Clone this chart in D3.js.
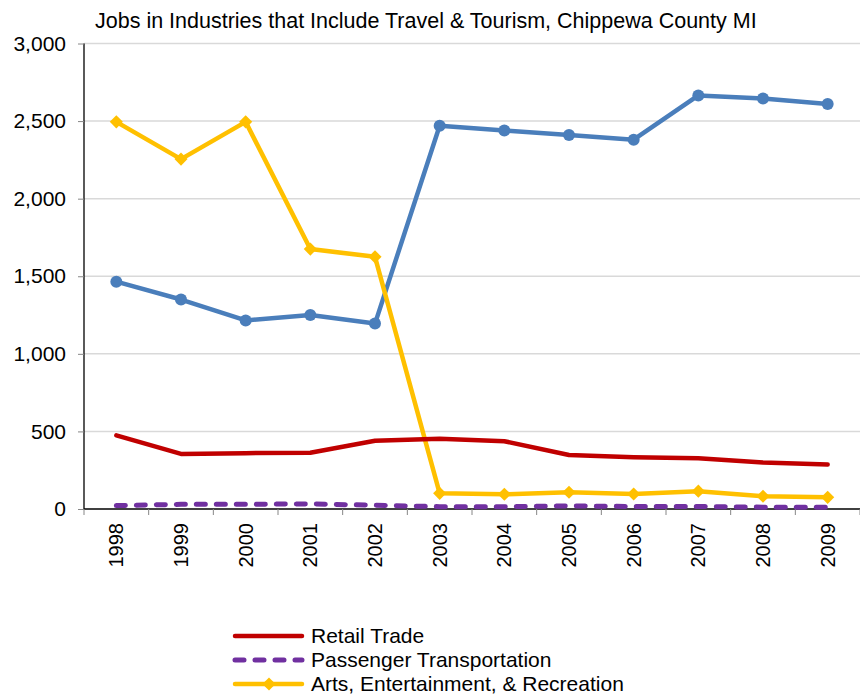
<!DOCTYPE html>
<html>
<head>
<meta charset="utf-8">
<script src="https://cdn.jsdelivr.net/npm/d3@7/dist/d3.min.js"></script>
<style>
  html, body { margin: 0; padding: 0; background: #fff; }
  svg { display: block; font-family: "Liberation Sans", Arial, sans-serif; }
</style>
</head>
<body>
<svg id="chart" width="860" height="694"></svg>
<script>
// Chippewa County MI employment by industry, 1998-2009
const years = ["1998","1999","2000","2001","2002","2003","2004","2005","2006","2007","2008","2009"];
const retailTrade = [475, 355, 360, 362, 440, 452, 437, 348, 333, 327, 300, 287];
const passengerTransportation = [22, 30, 30, 33, 24, 15, 15, 20, 16, 16, 12, 12];
const artsEntertainment = [2495, 2255, 2495, 1675, 1625, 101, 95, 108, 97, 115, 82, 75];
const accommodationFood = [1465, 1350, 1215, 1250, 1195, 2470, 2440, 2410, 2380, 2665, 2645, 2610];
const yTicks = [0, 500, 1000, 1500, 2000, 2500, 3000];
const titleText = "Jobs in Industries that Include Travel & Tourism, Chippewa County MI";

const series = [
  { name: "Accommodation & Food Services", values: accommodationFood, color: "#4A7EBB", marker: "circle", dash: null },
  { name: "Arts, Entertainment, & Recreation", values: artsEntertainment, color: "#FFC000", marker: "diamond", dash: null },
  { name: "Retail Trade", values: retailTrade, color: "#C00000", marker: null, dash: null },
  { name: "Passenger Transportation", values: passengerTransportation, color: "#7030A0", marker: null, dash: "9,11" }
];
const legendOrder = ["Retail Trade", "Passenger Transportation", "Arts, Entertainment, & Recreation"];

const svg = d3.select("#chart");
const plotLeft = 84, plotRight = 860, plotTop = 43.5, plotBottom = 509;

const x = d3.scaleBand().domain(years).range([plotLeft, plotRight]).paddingInner(0).paddingOuter(0);
const y = d3.scaleLinear().domain([0, 3000]).range([plotBottom, plotTop]);
const cx = d => x(d) + x.bandwidth() / 2;

// title
svg.append("text")
  .attr("x", 95).attr("y", 28)
  .attr("font-family", "'Liberation Sans Narrow', 'Liberation Sans', Arial, sans-serif")
  .attr("font-size", 21.5)
  .attr("fill", "#000")
  .text(titleText);

// gridlines
svg.append("g").selectAll("line").data(yTicks.filter(t => t > 0)).join("line")
  .attr("x1", plotLeft).attr("x2", plotRight)
  .attr("y1", d => y(d)).attr("y2", d => y(d))
  .attr("stroke", "#D9D9D9").attr("stroke-width", 1.5);

// y axis
const yAxis = svg.append("g").attr("transform", `translate(${plotLeft},0)`)
  .call(d3.axisLeft(y).tickValues(yTicks).tickFormat(d3.format(",")).tickSize(6).tickPadding(12));
yAxis.select(".domain").attr("stroke", "#000").attr("stroke-width", 1.3).attr("d", `M0,${plotTop}V${plotBottom}`);
yAxis.selectAll(".tick line").attr("stroke", "#868686");
yAxis.selectAll(".tick text").attr("font-size", 21).attr("fill", "#000")
  .attr("font-family", "'Liberation Sans', Arial, sans-serif");

// x axis
const xAxis = svg.append("g").attr("transform", `translate(0,${plotBottom})`)
  .call(d3.axisBottom(x).tickSize(0).tickFormat(d => d));
xAxis.select(".domain").attr("stroke", "#000").attr("stroke-width", 1.3).attr("d", `M${plotLeft},0H${plotRight}`);
xAxis.selectAll(".tick text")
  .attr("font-size", 20).attr("fill", "#000")
  .attr("font-family", "'Liberation Sans', Arial, sans-serif")
  .attr("transform", "rotate(-90)")
  .attr("text-anchor", "end")
  .attr("x", -14).attr("y", 0).attr("dy", "0.35em");
// category boundary ticks
svg.append("g").selectAll("line").data(years.concat(["end"])).join("line")
  .attr("x1", (d, i) => i < years.length ? x(d) : plotRight)
  .attr("x2", (d, i) => i < years.length ? x(d) : plotRight)
  .attr("y1", plotBottom).attr("y2", plotBottom + 6)
  .attr("stroke", "#868686").attr("stroke-width", 1);

const line = d3.line().x((d, i) => cx(years[i])).y(d => y(d));
const diamond = d3.symbol().type(d3.symbolDiamond2).size(110);

// lines and markers
series.forEach(s => {
  svg.append("path")
    .datum(s.values)
    .attr("d", line)
    .attr("fill", "none")
    .attr("stroke", s.color)
    .attr("stroke-width", s.dash ? 5 : 4.5)
    .attr("stroke-linejoin", "round")
    .attr("stroke-linecap", "round")
    .attr("stroke-dasharray", s.dash);
  if (s.marker === "circle") {
    svg.append("g").selectAll("circle").data(s.values).join("circle")
      .attr("cx", (d, i) => cx(years[i])).attr("cy", d => y(d))
      .attr("r", 6).attr("fill", s.color);
  } else if (s.marker === "diamond") {
    svg.append("g").selectAll("path").data(s.values).join("path")
      .attr("d", diamond)
      .attr("transform", (d, i) => `translate(${cx(years[i])},${y(d)})`)
      .attr("fill", s.color);
  }
});

// legend
const legend = svg.append("g");
legendOrder.forEach((name, i) => {
  const s = series.find(d => d.name === name);
  const ly = 636 + i * 24;
  legend.append("line")
    .attr("x1", 235).attr("x2", 302).attr("y1", ly).attr("y2", ly)
    .attr("stroke", s.color).attr("stroke-width", s.dash ? 5 : 4.5)
    .attr("stroke-linecap", "round")
    .attr("stroke-dasharray", s.dash);
  if (s.marker === "diamond") {
    legend.append("path").attr("d", diamond)
      .attr("transform", `translate(269,${ly})`).attr("fill", s.color);
  }
  legend.append("text")
    .attr("x", 311).attr("y", ly).attr("dy", "0.33em")
    .attr("font-size", 21).attr("fill", "#000")
    .attr("font-family", "'Liberation Sans', Arial, sans-serif")
    .text(name);
});
</script>
</body>
</html>
